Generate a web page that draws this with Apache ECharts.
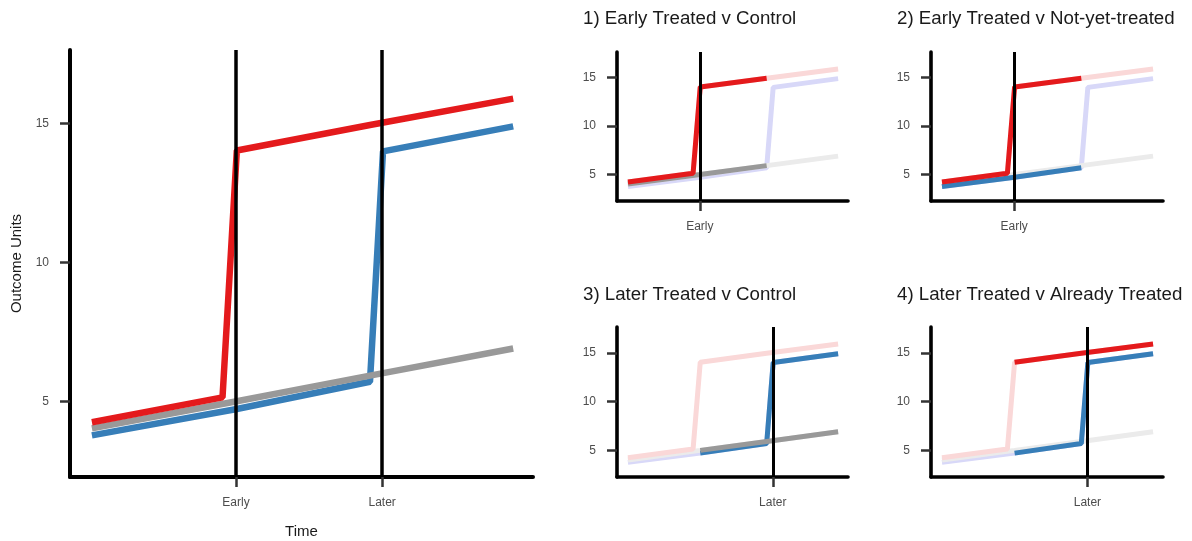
<!DOCTYPE html>
<html>
<head>
<meta charset="utf-8">
<script src="https://cdn.jsdelivr.net/npm/echarts@6/dist/echarts.min.js"></script>
<style>html,body{margin:0;padding:0;background:#fff;}#c{width:1192px;height:541px;}</style>
</head>
<body>
<div id="c"></div>
<script>
// ---- data ----
const eventLabels = ['Early', 'Later'];
const eventTimes = [34.2, 68.9];
const yTicks = [5, 10, 15];
const redT = [0, 31, 34.4, 66, 100];
const redY = [4.24, 5.14, 14.03, 14.95, 15.9];
const blueT = [0, 34.4, 66, 69.1, 100];
const blueY = [3.77, 4.72, 5.7, 14.0, 14.9];
const greyT = [0, 34.4, 66, 100];
const greyY = [4.02, 5.0, 5.92, 6.9];
const panelTitles = ['1) Early Treated v Control', '2) Early Treated v Not-yet-treated', '3) Later Treated v Control', '4) Later Treated v Already Treated'];
const panelEvent = [0, 0, 1, 1];
// highlighted windows per panel: [group, from, to]
const panelHighlights = [
  [['red', 0, 66], ['grey', 0, 66]],
  [['red', 0, 66], ['blue', 0, 66]],
  [['blue', 34.4, 100], ['grey', 34.4, 100]],
  [['red', 34.4, 100], ['blue', 34.4, 100]]
];

const groups = {
  blue: { t: blueT, y: blueY, color: '#377EB8', faded: '#D8D8F8' },
  grey: { t: greyT, y: greyY, color: '#999999', faded: '#EBEBEB' },
  red:  { t: redT,  y: redY,  color: '#E41A1C', faded: '#FAD8D8' }
};
const order = ['blue', 'grey', 'red'];

function pts(g, from, to) {
  const out = [];
  g.t.forEach((t, i) => { if (t >= from - 1e-9 && t <= to + 1e-9) out.push([t, g.y[i]]); });
  return out;
}

const xMin = -5.2, xMax = 104.7, yMin = 2.27, yMax = 17.65;

const grids = [
  { left: 70, top: 50, width: 463, height: 427 },
  { left: 617, top: 52, width: 231, height: 149 },
  { left: 931, top: 52, width: 232, height: 149 },
  { left: 617, top: 327, width: 231, height: 150 },
  { left: 931, top: 327, width: 232, height: 150 }
].map(g => Object.assign(g, { containLabel: false, outerBoundsMode: 'none' }));

const xAxes = [], yAxes = [], series = [], titles = [];
grids.forEach((g, gi) => {
  const main = gi === 0;
  const lw = main ? 4 : 3.6;
  const evIdx = main ? [0, 1] : [panelEvent[gi - 1]];
  xAxes.push({
    type: 'value', gridIndex: gi, min: xMin, max: xMax,
    name: main ? 'Time' : '', nameLocation: 'middle', nameGap: 47,
    nameTextStyle: { fontSize: 15, color: '#1a1a1a', fontFamily: 'Liberation Sans' },
    axisLine: { show: true, onZero: false, lineStyle: { color: '#000', width: lw } },
    axisTick: { show: true, length: 10, customValues: evIdx.map(i => eventTimes[i]), lineStyle: { color: '#333', width: 2.5 } },
    axisLabel: { show: true, margin: 20, fontSize: 12, color: '#4D4D4D', fontFamily: 'Liberation Sans',
      customValues: evIdx.map(i => eventTimes[i]),
      formatter: v => { const k = eventTimes.findIndex(e => Math.abs(e - v) < 1e-6); return k >= 0 ? eventLabels[k] : ''; } },
    splitLine: { show: false }
  });
  yAxes.push({
    type: 'value', gridIndex: gi, min: yMin, max: yMax,
    name: main ? 'Outcome Units' : '', nameLocation: 'middle', nameGap: 46, nameRotate: 90,
    nameTextStyle: { fontSize: 15, color: '#1a1a1a', fontFamily: 'Liberation Sans' },
    axisLine: { show: true, onZero: false, lineStyle: { color: '#000', width: lw } },
    axisTick: { show: true, length: 10, customValues: yTicks, lineStyle: { color: '#333', width: 2.5 } },
    axisLabel: { show: true, margin: 21, fontSize: 12, color: '#4D4D4D', fontFamily: 'Liberation Sans', customValues: yTicks },
    splitLine: { show: false }
  });
  const w = main ? 6.5 : 5;
  series.push({
    type: 'line', xAxisIndex: gi, yAxisIndex: gi, data: [], silent: true, z: 1,
    markLine: { silent: true, symbol: ['none', 'none'], label: { show: false },
      lineStyle: { color: '#000', width: main ? 3.5 : 3, type: 'solid' },
      emphasis: { disabled: true },
      data: evIdx.map(i => ({ xAxis: eventTimes[i] })) }
  });
  if (main) {
    order.forEach(k => {
      const gr = groups[k];
      series.push({ type: 'line', xAxisIndex: gi, yAxisIndex: gi, data: pts(gr, -1, 101), showSymbol: false, silent: true, z: 3,
        lineStyle: { color: gr.color, width: w }, animation: false });
    });
  } else {
    const hl = panelHighlights[gi - 1];
    order.forEach(k => {
      const gr = groups[k];
      series.push({ type: 'line', xAxisIndex: gi, yAxisIndex: gi, data: pts(gr, -1, 101), showSymbol: false, silent: true, z: 2,
        lineStyle: { color: gr.faded, width: w }, animation: false });
    });
    order.forEach(k => {
      const h = hl.find(x => x[0] === k);
      if (!h) return;
      const gr = groups[k];
      series.push({ type: 'line', xAxisIndex: gi, yAxisIndex: gi, data: pts(gr, h[1], h[2]), showSymbol: false, silent: true, z: 3,
        lineStyle: { color: gr.color, width: w }, animation: false });
    });
    const pos = [[583, 9], [897, 9], [583, 285], [897, 285]][gi - 1];
    titles.push({ text: panelTitles[gi - 1], left: pos[0], top: pos[1], padding: 0,
      textStyle: { fontSize: 18.7, fontWeight: 'normal', color: '#1a1a1a', fontFamily: 'Liberation Sans' } });
  }
});

const chart = echarts.init(document.getElementById('c'), null, { renderer: 'canvas' });
chart.setOption({
  animation: false,
  backgroundColor: '#fff',
  title: titles,
  grid: grids,
  xAxis: xAxes,
  yAxis: yAxes,
  series: series
});
</script>
</body>
</html>
